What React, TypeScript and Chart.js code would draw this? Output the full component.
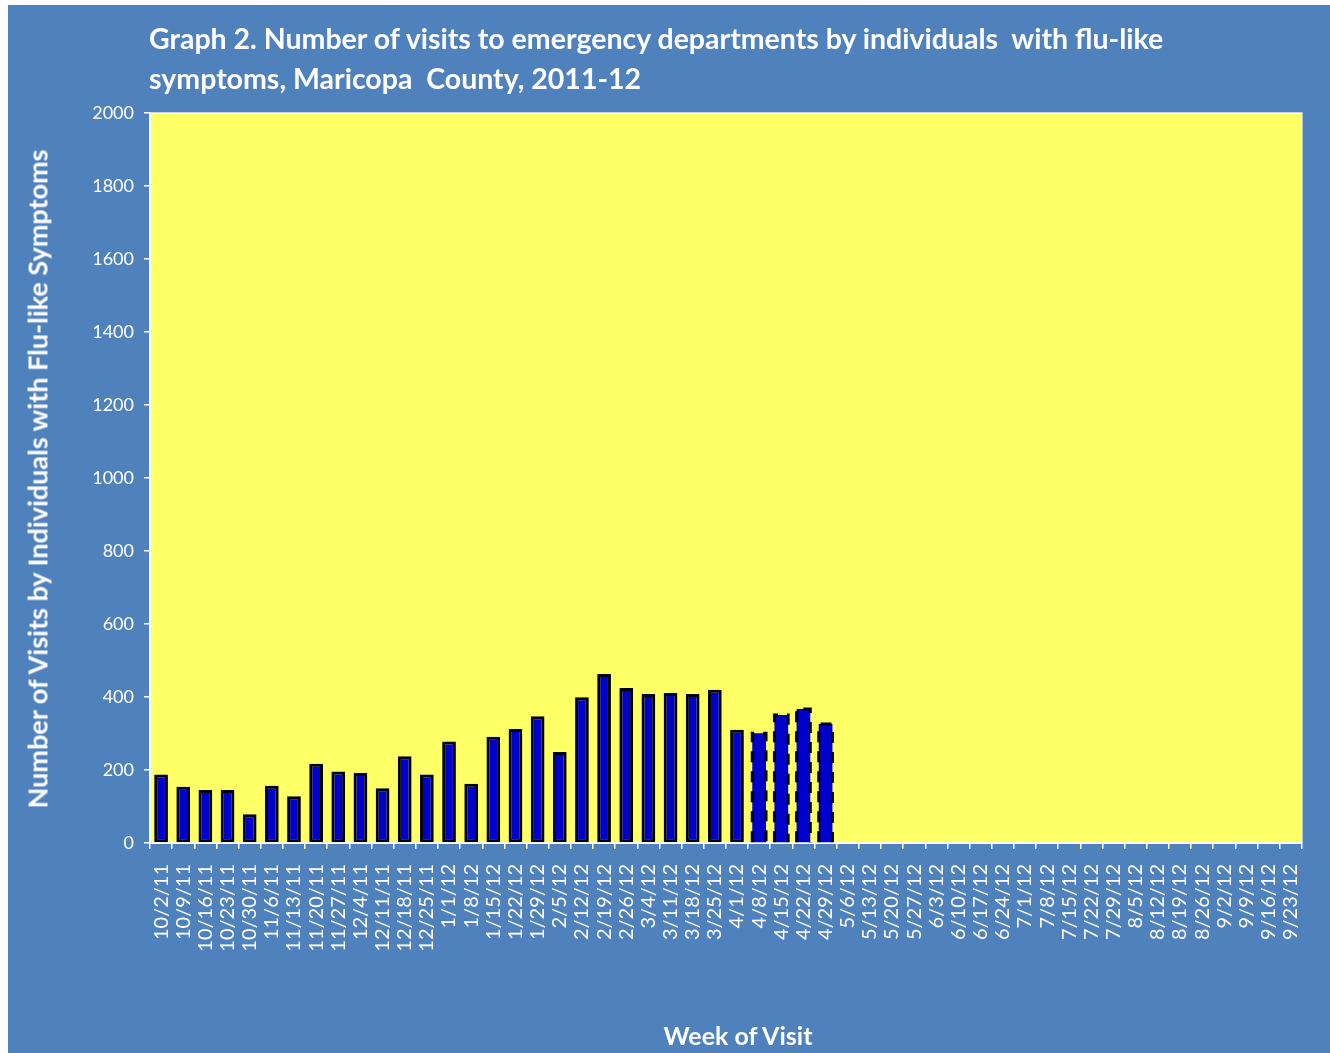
import React, { useEffect, useRef } from "react";
import { Chart, registerables } from "chart.js";

Chart.register(...registerables);

const weeks: string[] = [
  "10/2/11", "10/9/11", "10/16/11", "10/23/11", "10/30/11", "11/6/11", "11/13/11", "11/20/11",
  "11/27/11", "12/4/11", "12/11/11", "12/18/11", "12/25/11", "1/1/12", "1/8/12", "1/15/12",
  "1/22/12", "1/29/12", "2/5/12", "2/12/12", "2/19/12", "2/26/12", "3/4/12", "3/11/12",
  "3/18/12", "3/25/12", "4/1/12", "4/8/12", "4/15/12", "4/22/12", "4/29/12", "5/6/12",
  "5/13/12", "5/20/12", "5/27/12", "6/3/12", "6/10/12", "6/17/12", "6/24/12", "7/1/12",
  "7/8/12", "7/15/12", "7/22/12", "7/29/12", "8/5/12", "8/12/12", "8/19/12", "8/26/12",
  "9/2/12", "9/9/12", "9/16/12", "9/23/12",
];

const visits: (number | null)[] = [
  188, 154, 145, 145, 79, 157, 128, 217,
  196, 192, 150, 238, 188, 278, 162, 291,
  312, 347, 249, 399, 463, 425, 408, 411,
  408, 420, 310, 301, 351, 367, 326, null,
  null, null, null, null, null, null, null, null,
  null, null, null, null, null, null, null, null,
  null, null, null, null,
];

// weeks whose counts are provisional (drawn with a dashed outline)
const provisionalWeeks: string[] = ["4/8/12", "4/15/12", "4/22/12", "4/29/12"];

const yMin = 0;
const yMax = 2000;
const yStep = 200;

const titleLines: string[] = [
  "Graph 2. Number of visits to emergency departments by individuals  with flu-like",
  "symptoms, Maricopa  County, 2011-12",
];
const yTitle = "Number of Visits by Individuals with Flu-like Symptoms";
const xTitle = "Week of Visit";

const BG = "#4F81BD";
const PLOT = "#FFFF66";
const BAR = "#0000CC";
const FONT = "Lato, 'Open Sans', sans-serif";

const plotBgPlugin = {
  id: "plotBg",
  beforeDraw(chart: any) {
    const { ctx, chartArea } = chart;
    if (!chartArea) return;
    ctx.save();
    ctx.fillStyle = PLOT;
    ctx.fillRect(chartArea.left, chartArea.top, chartArea.right - chartArea.left, chartArea.bottom - chartArea.top);
    ctx.restore();
  },
  afterDraw(chart: any) {
    const { ctx, chartArea } = chart;
    ctx.save();
    ctx.strokeStyle = "rgba(255,255,255,0.9)";
    ctx.lineWidth = 1.5;
    ctx.beginPath();
    ctx.moveTo(chartArea.left, chartArea.top);
    ctx.lineTo(chartArea.right, chartArea.top);
    ctx.lineTo(chartArea.right, chartArea.bottom);
    ctx.stroke();
    ctx.restore();
  },
};

const dashedPlugin = {
  id: "dashedBars",
  afterDatasetsDraw(chart: any) {
    const { ctx } = chart;
    const meta = chart.getDatasetMeta(0);
    const labels: string[] = chart.data.labels;
    meta.data.forEach((el: any, i: number) => {
      if (!provisionalWeeks.includes(labels[i])) return;
      if (visits[i] == null) return;
      const { x, y, base, width } = el.getProps(["x", "y", "base", "width"], true);
      const l = x - width / 2;
      const r = x + width / 2;
      ctx.save();
      ctx.lineWidth = 3;
      ctx.strokeStyle = "#000000";
      ctx.setLineDash([11, 9]);
      ctx.beginPath();
      ctx.moveTo(l, base);
      ctx.lineTo(l, y);
      ctx.lineTo(r, y);
      ctx.lineTo(r, base);
      ctx.stroke();
      ctx.restore();
    });
  },
};

export default function App() {
  const ref = useRef<HTMLCanvasElement | null>(null);

  useEffect(() => {
    if (!ref.current) return;
    const chart = new Chart(ref.current, {
      type: "bar",
      data: {
        labels: weeks,
        datasets: [
          {
            data: visits,
            backgroundColor: BAR,
            borderColor: "#000000",
            borderWidth: (c: any) => (provisionalWeeks.includes(weeks[c.dataIndex]) ? 0 : 3),
            borderSkipped: false,
            categoryPercentage: 1,
            barPercentage: 0.62,
          } as any,
        ],
      },
      options: {
        animation: false,
        responsive: false,
        maintainAspectRatio: false,
        devicePixelRatio: 1,
        layout: { padding: { top: 108, right: 26, left: 0, bottom: 0 } },
        plugins: {
          legend: { display: false },
          tooltip: { enabled: false },
          title: { display: false },
        },
        scales: {
          x: {
            grid: {
              display: true,
              drawOnChartArea: false,
              drawTicks: true,
              tickLength: 6,
              color: "#FFFFFF",
              lineWidth: 1.5,
            },
            border: { display: true, color: "#FFFFFF", width: 2 },
            ticks: {
              color: "#FFFFFF",
              autoSkip: false,
              minRotation: 90,
              maxRotation: 90,
              padding: 15,
              font: { family: FONT, size: 20 },
            },
            afterFit: (s: any) => {
              s.height = 210;
            },
          },
          y: {
            min: yMin,
            max: yMax,
            grid: {
              display: true,
              drawOnChartArea: false,
              drawTicks: true,
              tickLength: 6,
              color: "#FFFFFF",
              lineWidth: 1.5,
            },
            border: { display: true, color: "#FFFFFF", width: 2 },
            ticks: {
              stepSize: yStep,
              color: "#FFFFFF",
              padding: 10,
              font: { family: FONT, size: 18 },
              callback: (v: any) => String(v),
            },
            afterFit: (s: any) => {
              s.width = 142;
            },
          },
        },
      },
      plugins: [plotBgPlugin, dashedPlugin],
    });
    return () => chart.destroy();
  }, []);

  return (
    <div
      style={{
        position: "absolute",
        left: 8,
        top: 5,
        width: 1322,
        height: 1048,
        background: BG,
        fontFamily: FONT,
        color: "#FFFFFF",
      }}
    >
      <canvas ref={ref} width={1322} height={1048} style={{ display: "block" }} />
      <div
        style={{
          position: "absolute",
          left: 141,
          top: 13,
          fontSize: 28.5,
          lineHeight: "40px",
          fontWeight: 700,
          whiteSpace: "pre",
        }}
      >
        {titleLines.map((t, i) => (
          <div key={i}>{t}</div>
        ))}
      </div>
      <div
        style={{
          position: "absolute",
          left: 29,
          top: 474,
          transform: "translate(-50%, -50%) rotate(-90deg)",
          fontSize: 27,
          fontWeight: 700,
          whiteSpace: "nowrap",
        }}
      >
        {yTitle}
      </div>
      <div
        style={{
          position: "absolute",
          left: 730,
          top: 1030,
          transform: "translate(-50%, -50%)",
          fontSize: 25,
          fontWeight: 700,
          whiteSpace: "nowrap",
        }}
      >
        {xTitle}
      </div>
    </div>
  );
}
